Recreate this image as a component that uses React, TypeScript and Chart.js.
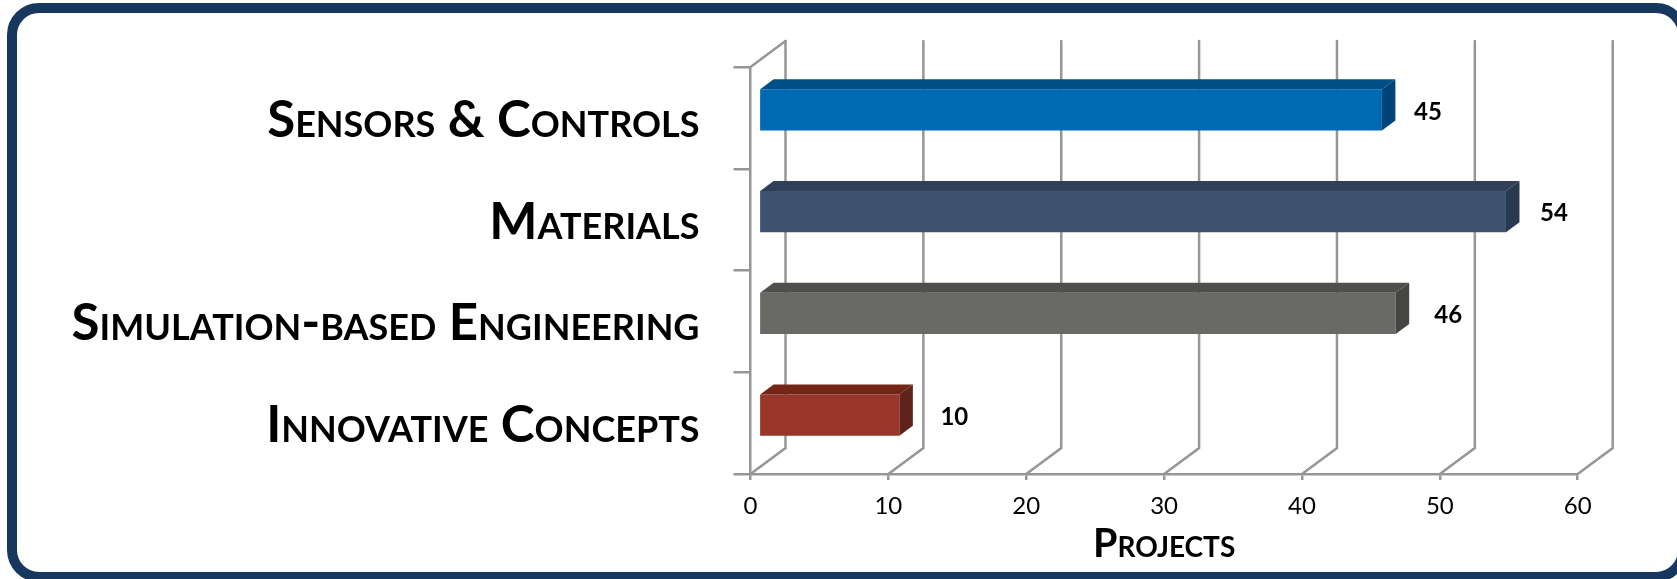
import React, { useEffect, useRef } from "react";
import { Chart, registerables } from "chart.js";

Chart.register(...registerables);

// Chart content
const categories = ["Sensors & Controls", "Materials", "Simulation-based Engineering", "Innovative Concepts"];
const projects = [45, 54, 46, 10];
const xTicks = [0, 10, 20, 30, 40, 50, 60];
const axisTitle = "Projects";

// Face colours of each 3D bar
const frontColors = ["#0069B4", "#3D5370", "#696966", "#973629"];
const topColors = ["#004F86", "#2F4059", "#4F4F4C", "#752518"];
const sideColors = ["#00457A", "#29394F", "#454542", "#60231A"];

// Distance from the end of each bar to the centre of its value label
const labelGaps = [46, 48, 52.5, 55];

const FRAME = "#17375E";
const WALL = "#969696";
const FONT = "Lato";
const CAPS_BOLD = "small-caps bold";

// Projection offsets of the box: wall depth, bar inset and bar depth
const WALL_DX = 35;
const WALL_DY = -26;
const INSET_DX = 11;
const INSET_DY = -8;
const BAR_DX = 13.5;
const BAR_DY = -10;

const walls3d = {
  id: "walls3d",
  beforeDatasetsDraw(chart: any) {
    const { ctx, scales } = chart;
    const { x, y } = scales;
    const top = y.top;
    const bottom = y.bottom;
    ctx.save();
    ctx.strokeStyle = WALL;
    ctx.lineWidth = 2.5;
    ctx.lineCap = "round";
    xTicks.forEach((t) => {
      const px = x.getPixelForValue(t);
      ctx.beginPath();
      ctx.moveTo(px, bottom);
      ctx.lineTo(px + WALL_DX, bottom + WALL_DY);
      ctx.lineTo(px + WALL_DX, top + WALL_DY);
      ctx.stroke();
    });
    const x0 = x.getPixelForValue(0);
    ctx.beginPath();
    ctx.moveTo(x0, top);
    ctx.lineTo(x0 + WALL_DX, top + WALL_DY);
    ctx.stroke();
    ctx.restore();

    // Bar fronts sit part-way into the depth of the box
    ctx.save();
    ctx.translate(INSET_DX, INSET_DY);
  },
  afterDatasetsDraw(chart: any) {
    const { ctx } = chart;
    ctx.restore();
    const bars = chart.getDatasetMeta(0).data;
    ctx.save();
    bars.forEach((bar: any, i: number) => {
      const { x, y, base, height } = bar.getProps(["x", "y", "base", "height"], true);
      const left = base + INSET_DX;
      const right = x + INSET_DX;
      const t = y - height / 2 + INSET_DY;
      const b = y + height / 2 + INSET_DY;

      ctx.fillStyle = topColors[i];
      ctx.beginPath();
      ctx.moveTo(left, t);
      ctx.lineTo(left + BAR_DX, t + BAR_DY);
      ctx.lineTo(right + BAR_DX, t + BAR_DY);
      ctx.lineTo(right, t);
      ctx.closePath();
      ctx.fill();

      ctx.fillStyle = sideColors[i];
      ctx.beginPath();
      ctx.moveTo(right, t);
      ctx.lineTo(right + BAR_DX, t + BAR_DY);
      ctx.lineTo(right + BAR_DX, b + BAR_DY);
      ctx.lineTo(right, b);
      ctx.closePath();
      ctx.fill();

      ctx.fillStyle = "#000";
      ctx.font = `bold 24px ${FONT}`;
      ctx.textAlign = "center";
      ctx.textBaseline = "middle";
      ctx.fillText(String(projects[i]), right + labelGaps[i], t + 22.5);
    });
    ctx.restore();
  },
};

export default function App() {
  const canvasRef = useRef<HTMLCanvasElement | null>(null);

  useEffect(() => {
    const chart = new Chart(canvasRef.current as HTMLCanvasElement, {
      type: "bar",
      data: {
        labels: categories,
        datasets: [
          {
            data: projects,
            backgroundColor: frontColors,
            base: -0.1,
            borderWidth: 0,
            categoryPercentage: 1,
            barPercentage: 0.405,
            clip: false,
          } as any,
        ],
      },
      options: {
        indexAxis: "y",
        animation: false,
        responsive: false,
        layout: { padding: { top: 67, right: 99.3, left: 0, bottom: 0 } },
        plugins: { legend: { display: false }, tooltip: { enabled: false } },
        scales: {
          x: {
            type: "linear",
            min: 0,
            max: 60,
            afterFit: (s: any) => {
              s.height = 105;
            },
            ticks: { stepSize: 10, color: "#000", font: { family: FONT, size: 24 }, padding: 12, maxRotation: 0 },
            grid: { drawOnChartArea: false, color: WALL, lineWidth: 2.5, tickLength: 6 },
            border: { color: WALL, width: 2.5 },
            title: {
              display: true,
              text: axisTitle,
              color: "#000",
              font: { family: FONT, size: 39.5, weight: CAPS_BOLD },
              padding: { top: 0, bottom: 11 },
            },
          },
          y: {
            type: "category",
            afterFit: (s: any) => {
              s.width = 750.5;
            },
            ticks: {
              color: "#000",
              autoSkip: false,
              padding: 34,
              labelOffset: 2.5,
              font: { family: FONT, size: 51, weight: CAPS_BOLD },
            },
            grid: { offset: true, drawOnChartArea: false, color: WALL, lineWidth: 2.5, tickLength: 17 },
            border: { color: WALL, width: 2.5 },
          },
        },
      },
      plugins: [walls3d],
    } as any);
    return () => chart.destroy();
  }, []);

  return (
    <div style={{ position: "absolute", left: 0, top: 0, width: 1677, height: 579, overflow: "hidden", background: "#fff" }}>
      <canvas ref={canvasRef} width={1677} height={579} style={{ position: "absolute", left: 0, top: 0, display: "block" }} />
      <div
        style={{
          position: "absolute",
          left: 7,
          top: 3,
          width: 1681,
          height: 579,
          boxSizing: "border-box",
          border: `10px solid ${FRAME}`,
          borderRadius: 32,
          pointerEvents: "none",
        }}
      />
    </div>
  );
}
